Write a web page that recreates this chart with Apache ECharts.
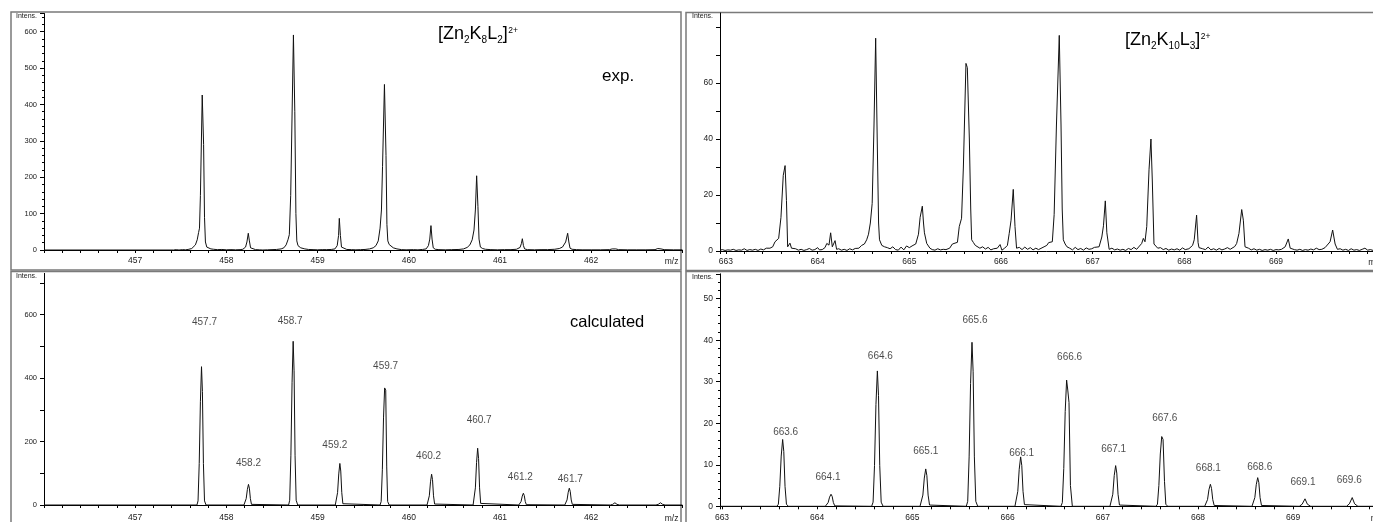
<!DOCTYPE html>
<html>
<head>
<meta charset="utf-8">
<title>[Zn2K8L2]2+ / [Zn2K10L3]2+ isotope patterns</title>
<script src="https://cdn.jsdelivr.net/npm/echarts@6/dist/echarts.min.js"></script>
<style>
  html, body { margin: 0; padding: 0; background: #fff; overflow: hidden; }
  #chart { width: 1373px; height: 522px; }
</style>
</head>
<body>
<div id="chart"></div>
<script>
// ---- values: [m/z, intensity] ----
const expSmall = [
  [456,0],[457.42,0],[457.45,1],[457.48,0],[457.52,1],[457.55,0.5],[457.58,1.5],[457.6,2],[457.62,4],[457.64,7],
  [457.66,14],[457.68,28],[457.695,48],[457.705,60],[457.715,150],[457.735,426],[457.75,290],[457.76,90],[457.77,22],
  [457.785,8],[457.8,4],[457.83,3],[457.86,2],[457.9,1],[457.95,1.5],[458.0,0.5],[458.05,1],[458.1,0.5],[458.15,1],
  [458.18,2],[458.21,8],[458.225,22],[458.24,46],[458.252,25],[458.265,6],[458.28,2],[458.32,1],[458.36,0.5],[458.4,0],
  [458.45,0.5],[458.5,1],[458.55,1.5],[458.6,3],[458.63,6],[458.655,14],[458.675,28],[458.69,42],[458.705,150],
  [458.735,591],[458.75,380],[458.762,100],[458.772,25],[458.785,12],[458.8,9],[458.815,6],[458.83,4],[458.86,3],
  [458.9,1.5],[458.95,1],[459.0,0.5],[459.05,1],[459.1,1],[459.15,1.5],[459.19,3],[459.215,12],[459.23,40],[459.238,87],
  [459.25,40],[459.262,8],[459.28,3],[459.32,1.5],[459.37,1],[459.42,0.5],[459.47,1],[459.52,1.5],[459.57,3],[459.61,6],
  [459.64,12],[459.665,25],[459.685,60],[459.7,110],[459.712,230],[459.733,455],[459.75,260],[459.76,70],[459.77,25],
  [459.785,15],[459.8,10],[459.83,6],[459.87,3],[459.92,1],[459.97,0.5],[460.05,1],[460.1,0.5],[460.15,1.5],[460.19,3],
  [460.215,12],[460.23,30],[460.243,67],[460.255,30],[460.268,6],[460.29,2],[460.33,1],[460.4,0.5],[460.47,1],[460.55,1.5],
  [460.6,3],[460.64,7],[460.67,14],[460.695,28],[460.715,55],[460.73,110],[460.744,204],[460.758,120],[460.77,30],
  [460.785,8],[460.81,4],[460.84,2],[460.9,1],[460.97,0.5],[461.05,1],[461.12,1],[461.18,2],[461.22,7],[461.235,18],
  [461.245,31],[461.257,12],[461.27,3],[461.3,1],[461.38,0.5],[461.45,1],[461.52,1],[461.6,2],[461.65,4],[461.685,8],
  [461.705,12],[461.72,22],[461.742,46],[461.755,22],[461.768,5],[461.79,2],[461.84,1],[461.9,0.5],[462.0,0.5],
  [462.1,0.5],[462.2,1],[462.23,3],[462.25,5],[462.27,3],[462.3,1],[462.4,0.5],[462.5,0.5],[462.6,0.5],[462.7,1],
  [462.73,4],[462.748,8],[462.765,3],[462.8,1],[462.9,0.5],[463,0.5]
];

const calcSmall = [
  [456,0],[457.677,0],[457.689,13],[457.702,131],[457.715,327],[457.727,436],[457.737,358],[457.748,131],[457.76,13],[457.777,0],
  [458.192,0],[458.204,2],[458.217,20],[458.23,49],[458.242,65],[458.252,53],[458.263,20],[458.275,2],[458.292,0],
  [458.682,0],[458.694,15],[458.707,155],[458.72,387],[458.732,516],[458.742,423],[458.753,155],[458.765,15],[458.782,0],
  [459.194,0],[459.206,4],[459.219,39],[459.232,98],[459.244,131],[459.254,107],[459.265,39],[459.277,4],[459.294,0],
  [459.685,0],[459.697,11],[459.71,111],[459.723,277],[459.735,369],[459.747,362],[459.758,120],[459.768,11],[459.785,0],
  [460.2,0],[460.212,3],[460.225,29],[460.238,73],[460.25,97],[460.26,80],[460.271,29],[460.283,3],[460.3,0],
  [460.705,0],[460.717,5],[460.73,54],[460.743,134],[460.755,179],[460.765,147],[460.776,54],[460.788,5],[460.805,0],
  [461.206,0],[461.218,1],[461.231,11],[461.244,28],[461.256,37],[461.266,30],[461.277,11],[461.289,1],[461.306,0],
  [461.71,0],[461.722,2],[461.735,16],[461.748,40],[461.76,53],[461.77,43],[461.781,16],[461.793,2],[461.81,0],
  [462.21,0],[462.235,2],[462.26,7],[462.283,2],[462.31,0],
  [462.71,0],[462.735,2],[462.76,7],[462.783,2],[462.81,0],[463,0]
];

const expLarge = [
  [662.935,0.3],[662.96,0.5],[662.99,0.2],[663.02,0.4],[663.05,0.3],[663.08,0.6],[663.11,0.2],[663.14,0.4],[663.17,0.3],
  [663.2,0.8],[663.23,0.2],[663.26,0.5],[663.29,0.3],[663.32,0.6],[663.35,0.2],[663.38,0.7],[663.41,0.4],[663.44,1.0],
  [663.46,0.5],[663.48,1],[663.51,1.5],[663.535,3.3],[663.555,4],[663.575,4.5],[663.6,12],[663.625,27],[663.645,30.5],
  [663.66,18],[663.673,1.5],[663.685,2],[663.698,2.8],[663.715,1],[663.735,0.4],[663.76,0.8],[663.79,0.3],[663.82,0.6],
  [663.85,0.2],[663.88,0.5],[663.91,0.9],[663.94,0.3],[663.97,0.5],[664.0,1.2],[664.02,0.4],[664.05,0.5],[664.08,1.2],
  [664.1,2.7],[664.124,2.1],[664.142,6.5],[664.16,1.5],[664.175,2],[664.19,3.7],[664.207,0.6],[664.23,0.8],[664.26,0.3],
  [664.29,0.6],[664.32,0.2],[664.35,0.8],[664.38,0.4],[664.41,0.9],[664.43,0.5],[664.45,1],[664.48,2],[664.51,2.5],
  [664.535,4],[664.555,6],[664.575,10],[664.595,17],[664.615,45],[664.633,76],[664.65,40],[664.665,10],[664.675,4],
  [664.7,2],[664.73,1.5],[664.76,1.2],[664.79,0.8],[664.82,1.5],[664.85,0.5],[664.88,0.3],[664.91,1.4],[664.94,0.4],
  [664.97,1.8],[665.0,1.2],[665.04,2],[665.07,2.5],[665.1,6],[665.118,12],[665.142,16],[665.155,10],[665.165,6.5],
  [665.19,2.7],[665.225,1],[665.25,0.5],[665.28,0.3],[665.31,0.8],[665.34,0.4],[665.37,0.6],[665.4,0.5],[665.42,1.2],
  [665.44,1],[665.47,2.5],[665.48,3.1],[665.525,3.1],[665.545,8.7],[665.57,11.7],[665.59,30],[665.618,67],[665.633,65.5],
  [665.655,40],[665.67,15],[665.68,4],[665.7,3],[665.72,2],[665.77,1],[665.8,1.5],[665.83,0.7],[665.86,1.3],[665.89,0.4],
  [665.92,0.8],[665.94,0.2],[665.96,1],[665.99,2.3],[666.01,0.3],[666.04,1],[666.07,2],[666.09,6.3],[666.11,11],
  [666.134,22],[666.153,8.7],[666.17,1],[666.2,1.3],[666.23,0.5],[666.26,1.4],[666.29,0.6],[666.32,1.2],[666.35,0.4],
  [666.38,1.0],[666.41,0.5],[666.43,0.8],[666.47,1.5],[666.5,2],[666.52,3],[666.56,3.3],[666.58,13],[666.605,45],
  [666.636,77],[666.655,45],[666.668,15],[666.68,4],[666.7,2.5],[666.72,1.5],[666.75,1.0],[666.78,0.4],[666.81,1.3],
  [666.84,0.5],[666.87,0.9],[666.9,0.3],[666.93,1.1],[666.96,0.6],[666.99,0.8],[667.02,1.3],[667.04,0.8],[667.07,1.5],
  [667.1,5],[667.118,9],[667.138,17.9],[667.155,6.5],[667.18,0.6],[667.21,1],[667.24,0.4],[667.27,0.7],[667.3,0.3],
  [667.33,0.6],[667.36,0.2],[667.39,0.9],[667.42,0.5],[667.45,1.3],[667.48,0.6],[667.5,1],[667.535,2.7],[667.553,4.5],
  [667.571,3.3],[667.59,8.7],[667.615,29],[667.636,40],[667.651,25],[667.669,2.5],[667.69,2],[667.71,1],[667.74,1.2],
  [667.77,0.5],[667.8,0.9],[667.83,0.3],[667.86,0.7],[667.89,0.4],[667.92,0.8],[667.95,0.3],[667.98,1.1],[668.01,0.5],
  [668.03,0.9],[668.05,0.8],[668.09,2],[668.108,4],[668.134,12.8],[668.15,3],[668.16,1.2],[668.2,0.8],[668.23,0.5],
  [668.26,1.4],[668.29,0.4],[668.32,0.8],[668.35,0.3],[668.38,0.9],[668.41,0.4],[668.44,0.7],[668.47,1.2],[668.5,0.6],
  [668.52,0.8],[668.55,1.6],[668.571,2.7],[668.596,6.3],[668.626,14.8],[668.644,11],[668.662,1.5],[668.7,1],[668.73,0.4],
  [668.76,0.8],[668.79,0.3],[668.82,0.6],[668.85,0.2],[668.88,0.5],[668.91,0.3],[668.94,0.6],[668.97,0.2],[669.0,0.5],
  [669.03,0.4],[669.06,0.6],[669.1,1.5],[669.134,4.3],[669.155,1],[669.2,0.5],[669.23,0.3],[669.26,0.6],[669.29,0.2],
  [669.32,0.5],[669.35,0.3],[669.38,0.7],[669.41,0.4],[669.44,1.0],[669.47,0.5],[669.5,0.6],[669.535,1.2],[669.59,3.3],
  [669.618,7.5],[669.645,2.5],[669.67,0.6],[669.7,0.8],[669.73,0.3],[669.76,0.6],[669.79,0.2],[669.82,0.8],[669.85,0.3],
  [669.88,0.5],[669.91,0.2],[669.94,0.6],[669.97,1.0],[670.0,0.3],[670.03,0.5],[670.06,0.2],[670.1,0.4],[670.2,0.3]
];

const calcLarge = [
  [662.979,0],[663.577,0],[663.592,0.5],[663.607,4.8],[663.622,12.1],[663.637,16.1],[663.649,13.2],[663.662,4.8],[663.677,0.5],[663.697,0],
  [664.085,0],[664.1,0.1],[664.115,0.9],[664.13,2.2],[664.145,2.9],[664.157,2.4],[664.17,0.9],[664.185,0.1],[664.205,0],
  [664.572,0],[664.587,1],[664.602,9.8],[664.617,24.5],[664.632,32.6],[664.644,26.7],[664.657,9.8],[664.672,1],[664.692,0],
  [665.08,0],[665.095,0.3],[665.11,2.7],[665.125,6.8],[665.14,9],[665.152,7.4],[665.165,2.7],[665.18,0.3],[665.2,0],
  [665.566,0],[665.581,1.2],[665.596,11.9],[665.611,29.6],[665.626,39.5],[665.638,32.4],[665.651,11.9],[665.666,1.2],[665.686,0],
  [666.077,0],[666.092,0.4],[666.107,3.6],[666.122,8.9],[666.137,11.9],[666.149,9.8],[666.162,3.6],[666.177,0.4],[666.197,0],
  [666.56,0],[666.575,0.9],[666.59,9.1],[666.605,22.8],[666.62,30.4],[666.632,28],[666.645,25],[666.66,5],[666.68,0],
  [667.075,0],[667.09,0.3],[667.105,2.9],[667.12,7.4],[667.135,9.8],[667.147,8],[667.16,2.9],[667.175,0.3],[667.195,0],
  [667.559,0],[667.574,0.5],[667.589,5],[667.604,12.6],[667.619,16.8],[667.633,16.1],[667.648,6],[667.662,0.5],[667.682,0],
  [668.07,0],[668.085,0.2],[668.1,1.6],[668.115,4],[668.13,5.3],[668.142,4.3],[668.155,1.6],[668.17,0.2],[668.19,0],
  [668.567,0],[668.582,0.2],[668.597,2.1],[668.612,5.2],[668.627,6.9],[668.639,5.7],[668.652,2.1],[668.667,0.2],[668.687,0],
  [669.064,0],[669.094,0.5],[669.124,1.8],[669.149,0.5],[669.184,0],
  [669.56,0],[669.59,0.6],[669.62,2.1],[669.645,0.6],[669.68,0],[670,0]
];

// peak annotations of the calculated patterns
const labelsSmall = ['457.7','458.2','458.7','459.2','459.7','460.2','460.7','461.2','461.7'];
const apexSmall = [[457.727,436],[458.242,65],[458.732,516],[459.244,131],[459.735,369],[460.25,97],[460.755,179],[461.256,37],[461.76,53]];
const labelsLarge = ['663.6','664.1','664.6','665.1','665.6','666.1','666.6','667.1','667.6','668.1','668.6','669.1','669.6'];
const apexLarge = [[663.637,16.1],[664.145,2.9],[664.632,32.6],[665.14,9.0],[665.626,39.5],[666.137,11.9],[666.62,30.4],
  [667.135,9.8],[667.619,16.8],[668.13,5.3],[668.627,6.9],[669.124,1.8],[669.62,2.1]];

// label placement in pixels [dx, lift above apex] (layout only)
const shiftSmall = [[3,44],[0,21],[-3,20],[-5,18],[1,22],[-3,18],[1.5,28],[-3,16],[1,9]];
const shiftLarge = [[3,7.6],[-3,16.6],[3,14.3],[0,18],[3,21.6],[1,4],[3,23.3],[-2,16.4],[3,18.4],[-2,16],[2,10.4],[-2,16.3],[-3,17]];

const font = '"Liberation Sans", Arial, Helvetica, sans-serif';
const ink = '#1a1a1a';

function isInt(v) { return Math.abs(v - Math.round(v)) < 1e-6; }

function xAxis(gridIndex, min, max, labelMargin, extra) {
  return Object.assign({
    type: 'value', gridIndex: gridIndex, min: min, max: max,
    name: 'm/z', nameLocation: 'end', nameGap: -4,
    nameTextStyle: { fontFamily: font, fontSize: 8.5, color: ink, align: 'right', verticalAlign: 'top', padding: [labelMargin + 1, 0, 0, 0] },
    axisLine: { onZero: false, lineStyle: { color: '#000', width: 1 } },
    axisTick: { show: true, length: 3, lineStyle: { color: '#000' } },
    minorTick: { show: true, splitNumber: 5, length: 3, lineStyle: { color: '#000' } },
    axisLabel: { fontFamily: font, fontSize: 8.5, color: ink, margin: labelMargin, showMinLabel: false, showMaxLabel: false,
      formatter: v => (isInt(v) && (v < 462.5 || (v > 600 && v < 669.5))) ? String(Math.round(v)) : '' },
    splitLine: { show: false }
  }, extra || {});
}

function yAxis(gridIndex, max, interval, labelStep, labelTop, minorSplit, labelSize) {
  return {
    type: 'value', gridIndex: gridIndex, min: 0, max: max, interval: interval,
    name: 'Intens.', nameLocation: 'end', nameGap: -3,
    nameTextStyle: { fontFamily: font, fontSize: 7, color: ink, align: 'right', verticalAlign: 'middle', padding: [0, 7, 0, 0] },
    axisLine: { show: true, lineStyle: { color: '#000', width: 1 } },
    axisTick: { show: true, length: 4, lineStyle: { color: '#000' } },
    minorTick: { show: minorSplit > 0, splitNumber: minorSplit || 5, length: 2, lineStyle: { color: '#000' } },
    axisLabel: { fontFamily: font, fontSize: labelSize, color: ink, margin: 7, showMaxLabel: false,
      formatter: v => (isInt(v) && Math.round(v) % labelStep === 0 && v <= labelTop) ? String(Math.round(v)) : '' },
    splitLine: { show: false }
  };
}

function spectrum(axisIndex, data) {
  return {
    type: 'line', xAxisIndex: axisIndex, yAxisIndex: axisIndex, data: data,
    symbol: 'none', showSymbol: false, smooth: false, sampling: 'none',
    lineStyle: { color: '#111', width: 1 }, z: 3
  };
}

function peakLabels(axisIndex, names, apex, shifts) {
  return {
    type: 'scatter', xAxisIndex: axisIndex, yAxisIndex: axisIndex, symbolSize: 1,
    itemStyle: { color: 'rgba(0,0,0,0)' }, silent: true, z: 4,
    label: { show: true, fontFamily: font, fontSize: 10, color: ink, align: 'center', verticalAlign: 'middle',
      formatter: p => p.name },
    data: names.map((n, i) => ({
      name: n, value: apex[i],
      label: { position: [shifts[i][0] + 0.5, -shifts[i][1] + 0.5] }
    }))
  };
}

// every token sits on the line bottom; padding lifts it (sub lowest, superscript highest)
const titleRich = {
  m: { fontFamily: font, fontSize: 18, verticalAlign: 'bottom', padding: [0, 0, 2.2, 0], fill: '#000' },
  s: { fontFamily: font, fontSize: 10, verticalAlign: 'bottom', padding: [0, 0, 0, 0], fill: '#000' },
  p: { fontFamily: font, fontSize: 8.5, verticalAlign: 'bottom', padding: [0, 0, 10.3, 0.5], fill: '#000' }
};

const frame = { fill: 'none', stroke: '#7a7a7a', lineWidth: 1.5 };
const noBounds = { outerBoundsMode: 'none', containLabel: false };

const chart = echarts.init(document.getElementById('chart'), null, { renderer: 'canvas' });
chart.setOption({
  animation: false,
  backgroundColor: '#fff',
  grid: [
    Object.assign({ left: 44, top: 13.5, width: 638.4, height: 236.5 }, noBounds),
    Object.assign({ left: 720, top: 13, width: 666, height: 238 }, noBounds),
    Object.assign({ left: 44, top: 273.4, width: 638.4, height: 231.6 }, noBounds),
    Object.assign({ left: 720, top: 273.8, width: 668.4, height: 232.5 }, noBounds)
  ],
  xAxis: [
    xAxis(0, 456, 463, 6, { interval: 1 }),
    xAxis(1, 662.935, 670.2, 6, { splitNumber: 7 }),
    xAxis(2, 456, 463, 8, { interval: 1 }),
    xAxis(3, 662.979, 670, 6.5, { splitNumber: 7 })
  ],
  yAxis: [
    yAxis(0, 650, 100, 100, 600, 5, 7.5),
    yAxis(1, 85, 10, 20, 60, 0, 8.5),
    yAxis(2, 730, 100, 200, 600, 0, 7.5),
    yAxis(3, 56, 10, 10, 50, 5, 8.5)
  ],
  series: [
    spectrum(0, expSmall),
    spectrum(1, expLarge),
    spectrum(2, calcSmall),
    spectrum(3, calcLarge),
    peakLabels(2, labelsSmall, apexSmall, shiftSmall),
    peakLabels(3, labelsLarge, apexLarge, shiftLarge)
  ],
  graphic: [
    { type: 'rect', silent: true, shape: { x: 11, y: 12, width: 670, height: 258 }, style: frame },
    { type: 'rect', silent: true, shape: { x: 686, y: 12.5, width: 700, height: 258 }, style: frame },
    { type: 'rect', silent: true, shape: { x: 11, y: 271.5, width: 670, height: 260 }, style: frame },
    { type: 'rect', silent: true, shape: { x: 686, y: 271.5, width: 700, height: 260 }, style: frame },
    { type: 'text', silent: true, x: 438, y: 45.5,
      style: { text: '{m|[Zn}{s|2}{m|K}{s|8}{m|L}{s|2}{m|]}{p|2+}', rich: titleRich, verticalAlign: 'bottom' } },
    { type: 'text', silent: true, x: 1125, y: 51.7,
      style: { text: '{m|[Zn}{s|2}{m|K}{s|10}{m|L}{s|3}{m|]}{p|2+}', rich: titleRich, verticalAlign: 'bottom' } },
    { type: 'text', silent: true, x: 602, y: 76.4,
      style: { text: 'exp.', fontFamily: font, fontSize: 17, fill: '#000', verticalAlign: 'middle' } },
    { type: 'text', silent: true, x: 570, y: 322.1,
      style: { text: 'calculated', fontFamily: font, fontSize: 16.5, fill: '#000', verticalAlign: 'middle' } }
  ]
});
</script>
</body>
</html>
